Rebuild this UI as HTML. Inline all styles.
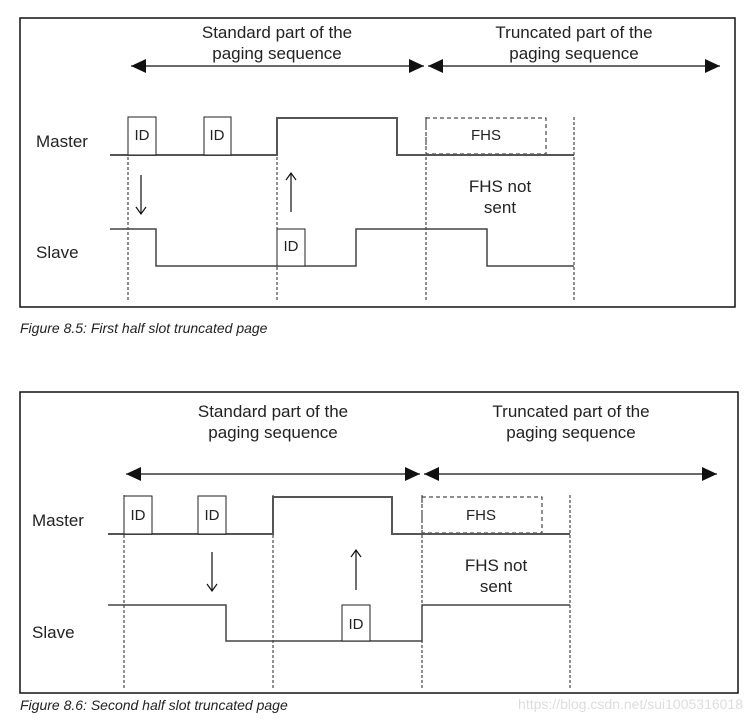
<!DOCTYPE html>
<html><head><style>
body{margin:0;background:#fff;width:751px;height:720px;overflow:hidden}
svg text{font-family:"Liberation Sans",sans-serif;fill:#222}
</style></head><body>
<svg width="751" height="720" xmlns="http://www.w3.org/2000/svg">
<defs>
<marker id="ah" markerWidth="16" markerHeight="14" refX="15" refY="7" orient="auto-start-reverse" markerUnits="userSpaceOnUse"><path d="M0,0 L15,7 L0,14z" fill="#111"/></marker>
<marker id="sa" markerWidth="10" markerHeight="12" refX="8" refY="6" orient="auto" markerUnits="userSpaceOnUse"><path d="M1,1 L8,6 L1,11" fill="none" stroke="#111" stroke-width="1.2"/></marker>
</defs>
<!-- Figure 1 -->
<rect x="20" y="18" width="715" height="289" fill="none" stroke="#111" stroke-width="1.5"/>
<text x="277" y="38" font-size="17" text-anchor="middle">Standard part of the</text>
<text x="277" y="59" font-size="17" text-anchor="middle">paging sequence</text>
<text x="574" y="38" font-size="17" text-anchor="middle">Truncated part of the</text>
<text x="574" y="59" font-size="17" text-anchor="middle">paging sequence</text>
<g stroke="#111" stroke-width="1.3" fill="none">
<line x1="131" y1="66" x2="424" y2="66" marker-start="url(#ah)" marker-end="url(#ah)"/>
<line x1="428" y1="66" x2="720" y2="66" marker-start="url(#ah)" marker-end="url(#ah)"/>
</g>
<g stroke="#222" stroke-width="1" stroke-dasharray="3,2">
<line x1="128" y1="117" x2="128" y2="302"/><line x1="277" y1="117" x2="277" y2="302"/>
<line x1="426" y1="117" x2="426" y2="302"/><line x1="574" y1="117" x2="574" y2="302"/>
</g>
<rect x="426" y="118" width="120" height="36" fill="none" stroke="#222" stroke-dasharray="4,3"/>
<polyline points="110,155 277,155 277,118 397,118 397,155 574,155" fill="none" stroke="#555" stroke-width="2"/>
<rect x="128" y="117" width="28" height="38" fill="#fff" stroke="#222"/>
<rect x="204" y="117" width="27" height="38" fill="#fff" stroke="#222"/>
<polyline points="110,229 156,229 156,266 356,266 356,229 487,229 487,266 574,266" fill="none" stroke="#444" stroke-width="1.5"/>
<rect x="277" y="229" width="28" height="37" fill="#fff" stroke="#222"/>
<text x="142" y="140" font-size="15" text-anchor="middle">ID</text>
<text x="217" y="140" font-size="15" text-anchor="middle">ID</text>
<text x="291" y="251" font-size="15" text-anchor="middle">ID</text>
<text x="486" y="140" font-size="15" text-anchor="middle">FHS</text>
<text x="36" y="147" font-size="17">Master</text>
<text x="36" y="258" font-size="17">Slave</text>
<text x="500" y="192" font-size="17" text-anchor="middle">FHS not</text>
<text x="500" y="213" font-size="17" text-anchor="middle">sent</text>
<line x1="141" y1="175" x2="141" y2="214" stroke="#111" stroke-width="1.2" marker-end="url(#sa)"/>
<line x1="291" y1="212" x2="291" y2="173" stroke="#111" stroke-width="1.2" marker-end="url(#sa)"/>
<text x="20" y="333" font-size="14" font-style="italic" fill="#333">Figure 8.5:  First half slot truncated page</text>
<!-- Figure 2 -->
<rect x="20" y="392" width="718" height="301" fill="none" stroke="#111" stroke-width="1.5"/>
<text x="273" y="417" font-size="17" text-anchor="middle">Standard part of the</text>
<text x="273" y="438" font-size="17" text-anchor="middle">paging sequence</text>
<text x="571" y="417" font-size="17" text-anchor="middle">Truncated part of the</text>
<text x="571" y="438" font-size="17" text-anchor="middle">paging sequence</text>
<g stroke="#111" stroke-width="1.3" fill="none">
<line x1="126" y1="474" x2="420" y2="474" marker-start="url(#ah)" marker-end="url(#ah)"/>
<line x1="424" y1="474" x2="717" y2="474" marker-start="url(#ah)" marker-end="url(#ah)"/>
</g>
<g stroke="#222" stroke-width="1" stroke-dasharray="3,2">
<line x1="124" y1="495" x2="124" y2="690"/><line x1="273" y1="495" x2="273" y2="690"/>
<line x1="422" y1="495" x2="422" y2="690"/><line x1="570" y1="495" x2="570" y2="690"/>
</g>
<rect x="422" y="497" width="120" height="36" fill="none" stroke="#222" stroke-dasharray="4,3"/>
<polyline points="108,534 273,534 273,497 392,497 392,534 570,534" fill="none" stroke="#555" stroke-width="2"/>
<rect x="124" y="496" width="28" height="38" fill="#fff" stroke="#222"/>
<rect x="198" y="496" width="28" height="38" fill="#fff" stroke="#222"/>
<polyline points="108,605 226,605 226,641 422,641 422,605 570,605" fill="none" stroke="#444" stroke-width="1.5"/>
<rect x="342" y="605" width="28" height="36" fill="#fff" stroke="#222"/>
<text x="138" y="520" font-size="15" text-anchor="middle">ID</text>
<text x="212" y="520" font-size="15" text-anchor="middle">ID</text>
<text x="356" y="629" font-size="15" text-anchor="middle">ID</text>
<text x="481" y="520" font-size="15" text-anchor="middle">FHS</text>
<text x="32" y="526" font-size="17">Master</text>
<text x="32" y="638" font-size="17">Slave</text>
<text x="496" y="571" font-size="17" text-anchor="middle">FHS not</text>
<text x="496" y="592" font-size="17" text-anchor="middle">sent</text>
<line x1="212" y1="552" x2="212" y2="591" stroke="#111" stroke-width="1.2" marker-end="url(#sa)"/>
<line x1="356" y1="590" x2="356" y2="550" stroke="#111" stroke-width="1.2" marker-end="url(#sa)"/>
<text x="20" y="710" font-size="14" font-style="italic" fill="#333">Figure 8.6:  Second half slot truncated page</text>
<text x="743" y="709" font-size="14" text-anchor="end" style="fill:#ddd">https://blog.csdn.net/sui1005316018</text>
</svg>
</body></html>
